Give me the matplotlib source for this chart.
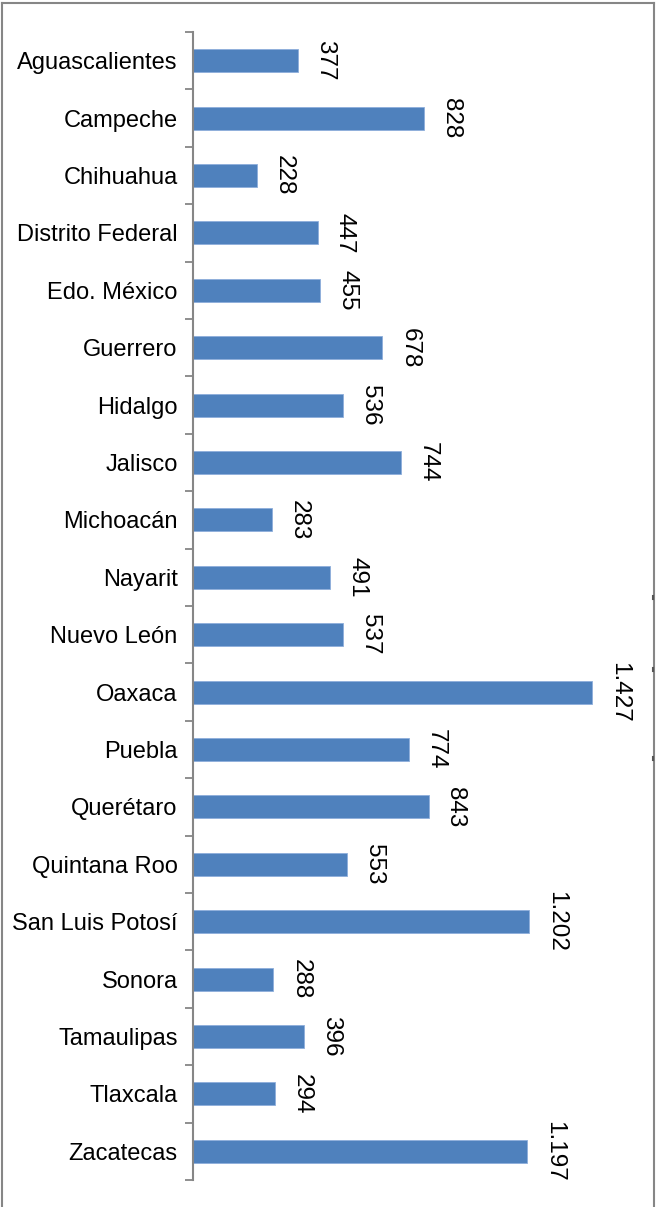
import matplotlib.pyplot as plt
from matplotlib.lines import Line2D
import numpy as np

estados = [
    "Aguascalientes", "Campeche", "Chihuahua", "Distrito Federal", "Edo. México",
    "Guerrero", "Hidalgo", "Jalisco", "Michoacán", "Nayarit", "Nuevo León",
    "Oaxaca", "Puebla", "Querétaro", "Quintana Roo", "San Luis Potosí",
    "Sonora", "Tamaulipas", "Tlaxcala", "Zacatecas",
]
valores = [377, 828, 228, 447, 455, 678, 536, 744, 283, 491, 537,
           1427, 774, 843, 553, 1202, 288, 396, 294, 1197]

BAR_COL = "#4F81BD"
AXIS_COL = "#868686"
FONT = "Liberation Sans"

W, H = 657, 1207
fig = plt.figure(figsize=(W / 100, H / 100), dpi=100, facecolor="white")
# plot area in pixels: x 193..640, y 32..1180
ax = fig.add_axes([193 / W, 1 - 1180 / H, (640 - 193) / W, (1180 - 32) / H])

y = np.arange(len(estados))
ax.barh(y, valores, height=0.4, color=BAR_COL, edgecolor="#8EAEDB",
        linewidth=0.6, zorder=2)

for yi, v in zip(y, valores):
    txt = f"{v:,}".replace(",", ".")
    ax.annotate(txt, xy=(v, yi), xytext=(11.5, 0), textcoords="offset points",
                rotation=270, ha="left", va="center", fontsize=17.5,
                family=FONT, color="black")

ax.set_xlim(0, 1600)
ax.set_ylim(len(estados) - 0.5, -0.5)

ax.set_yticks(y)
ax.set_yticklabels(estados, fontsize=17, family=FONT)
ax.set_yticks(np.arange(-0.5, len(estados), 1.0), minor=True)
ax.tick_params(axis="y", which="major", length=0, pad=11)
ax.tick_params(axis="y", which="minor", length=6, width=1.3, color=AXIS_COL)
ax.set_xticks([])

for side in ("top", "right", "bottom"):
    ax.spines[side].set_visible(False)
ax.spines["left"].set_color(AXIS_COL)
ax.spines["left"].set_linewidth(1.5)

# chart frame: top, left and right edges
def px(x, yy):
    return x / W, 1 - yy / H

for (x0, y0), (x1, y1) in [((2, 3), (654, 3)), ((2, 3), (2, H)), ((654, 3), (654, H))]:
    a, b = px(x0, y0)
    c, d = px(x1, y1)
    fig.add_artist(Line2D([a, c], [b, d], color=AXIS_COL, linewidth=1.5))

# small marks along the right edge
for yy in (596, 668, 757):
    a, b = px(653, yy)
    c, d = px(655.5, yy + 3)
    fig.add_artist(Line2D([a, a], [b, d], color="#555555", linewidth=1.5))

fig.savefig("out.png", dpi=100, facecolor="white")
